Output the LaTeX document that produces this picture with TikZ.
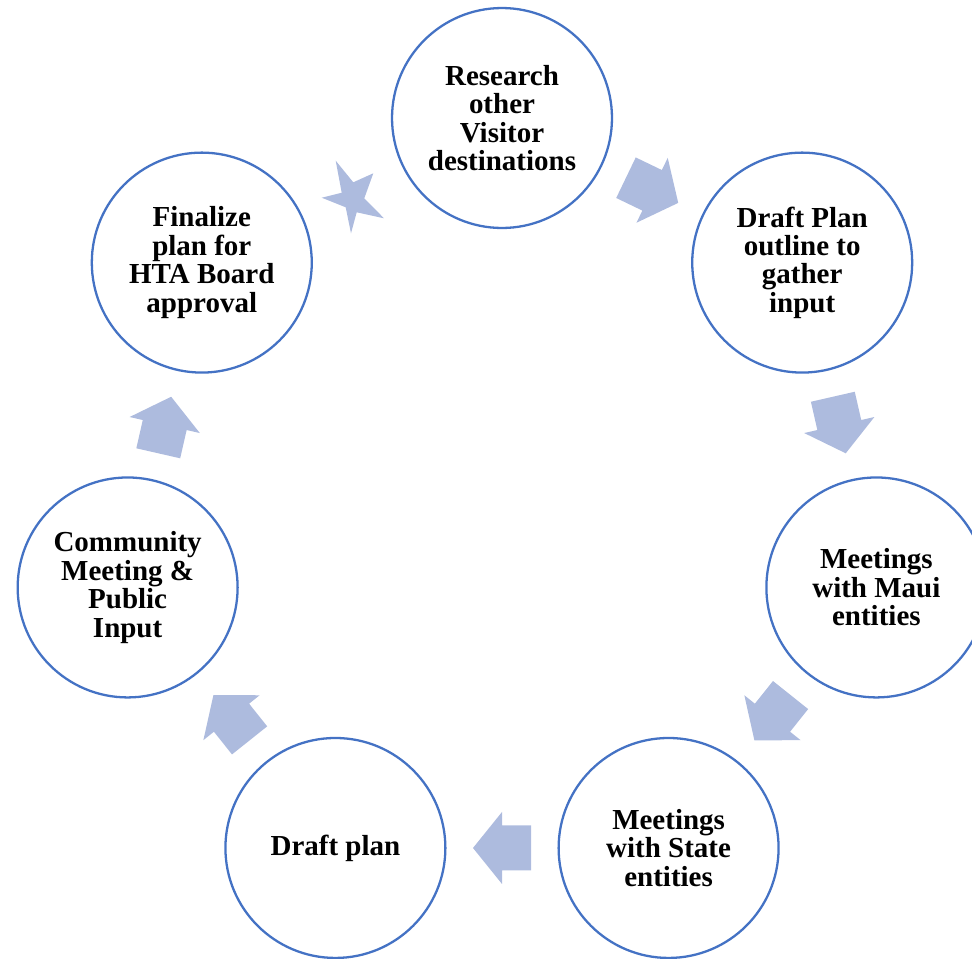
\documentclass[tikz,border=0pt]{standalone}
\usepackage{fontspec}
\setmainfont{Liberation Serif}
\usetikzlibrary{calc}
\definecolor{c0}{RGB}{68,114,196}
\definecolor{c1}{RGB}{173,187,222}
\tikzset{%
  stage/.style={circle,draw=c0,fill=white,line width=1.3pt,minimum size=4.4cm,
    inner sep=0pt,align=center,font=\bfseries\fontsize{16.5}{16.2}\selectfont}
}
\NewDocumentCommand\blockarr{}{%
  \coordinate (a0) at (-29,-22.5);
  \coordinate (a1) at (0,-22.5);
  \coordinate (a2) at (0,-36);
  \coordinate (a3) at (29,0);
  \coordinate (a4) at (0,36);
  \coordinate (a5) at (0,22.5);
  \coordinate (a6) at (-29,22.5);
  \fill[c1] (a0) -- (a1) -- (a2) -- (a3) -- (a4) -- (a5) -- (a6) -- cycle;%
}
\NewDocumentCommand\blockstar{}{%
  \fill[c1] (-16.2,29.6) -- (1.4,8.0) -- (21.4,17.0) -- (12.4,-8.0) -- (32.1,-28.0)
    -- (4.8,-22.0) -- (-0.9,-43.0) -- (-6.2,-17.0) -- (-30.2,-7.4) -- (-10.2,-2.4) -- cycle;%
}

\begin{document}
\begin{tikzpicture}[x=0.02cm,y=0.02cm]
  \useasboundingbox (-502,-456) rectangle (470,502);
  %
  \node[stage] (research) at (90:384) {Research\\other\\Visitor\\destinations};
  \node[stage] (outline) at (38.5714:384) {Draft Plan\\outline to\\gather\\input};
  \node[stage] (maui) at (-12.8571:384) {Meetings\\with Maui\\entities};
  \node[stage] (state) at (-64.2857:384) {Meetings\\with State\\entities};
  \node[stage] (draft) at (-115.7143:384) {Draft plan};
  \node[stage] (community) at (-167.1429:384) {Community\\Meeting \&\\Public\\Input};
  \node[stage] (finalize) at (141.4286:384) {Finalize\\plan for\\HTA Board\\approval};
  %%% Arrows
  \begin{scope}[shift={($(research)!0.5!(outline)$)},rotate=-25.714]\blockarr\end{scope}
  \begin{scope}[shift={($(outline)!0.5!(maui)$)},rotate=-77.143]\blockarr\end{scope}
  \begin{scope}[shift={($(maui)!0.5!(state)$)},rotate=-128.571]\blockarr\end{scope}
  \begin{scope}[shift={($(state)!0.5!(draft)$)},rotate=180]\blockarr\end{scope}
  \begin{scope}[shift={($(draft)!0.5!(community)$)},rotate=128.571]\blockarr\end{scope}
  \begin{scope}[shift={($(community)!0.5!(finalize)$)},rotate=77.143]\blockarr\end{scope}
  \begin{scope}[shift={($(finalize)!0.5!(research)$)}]\blockstar\end{scope}
  %%
\end{tikzpicture}
\end{document}
